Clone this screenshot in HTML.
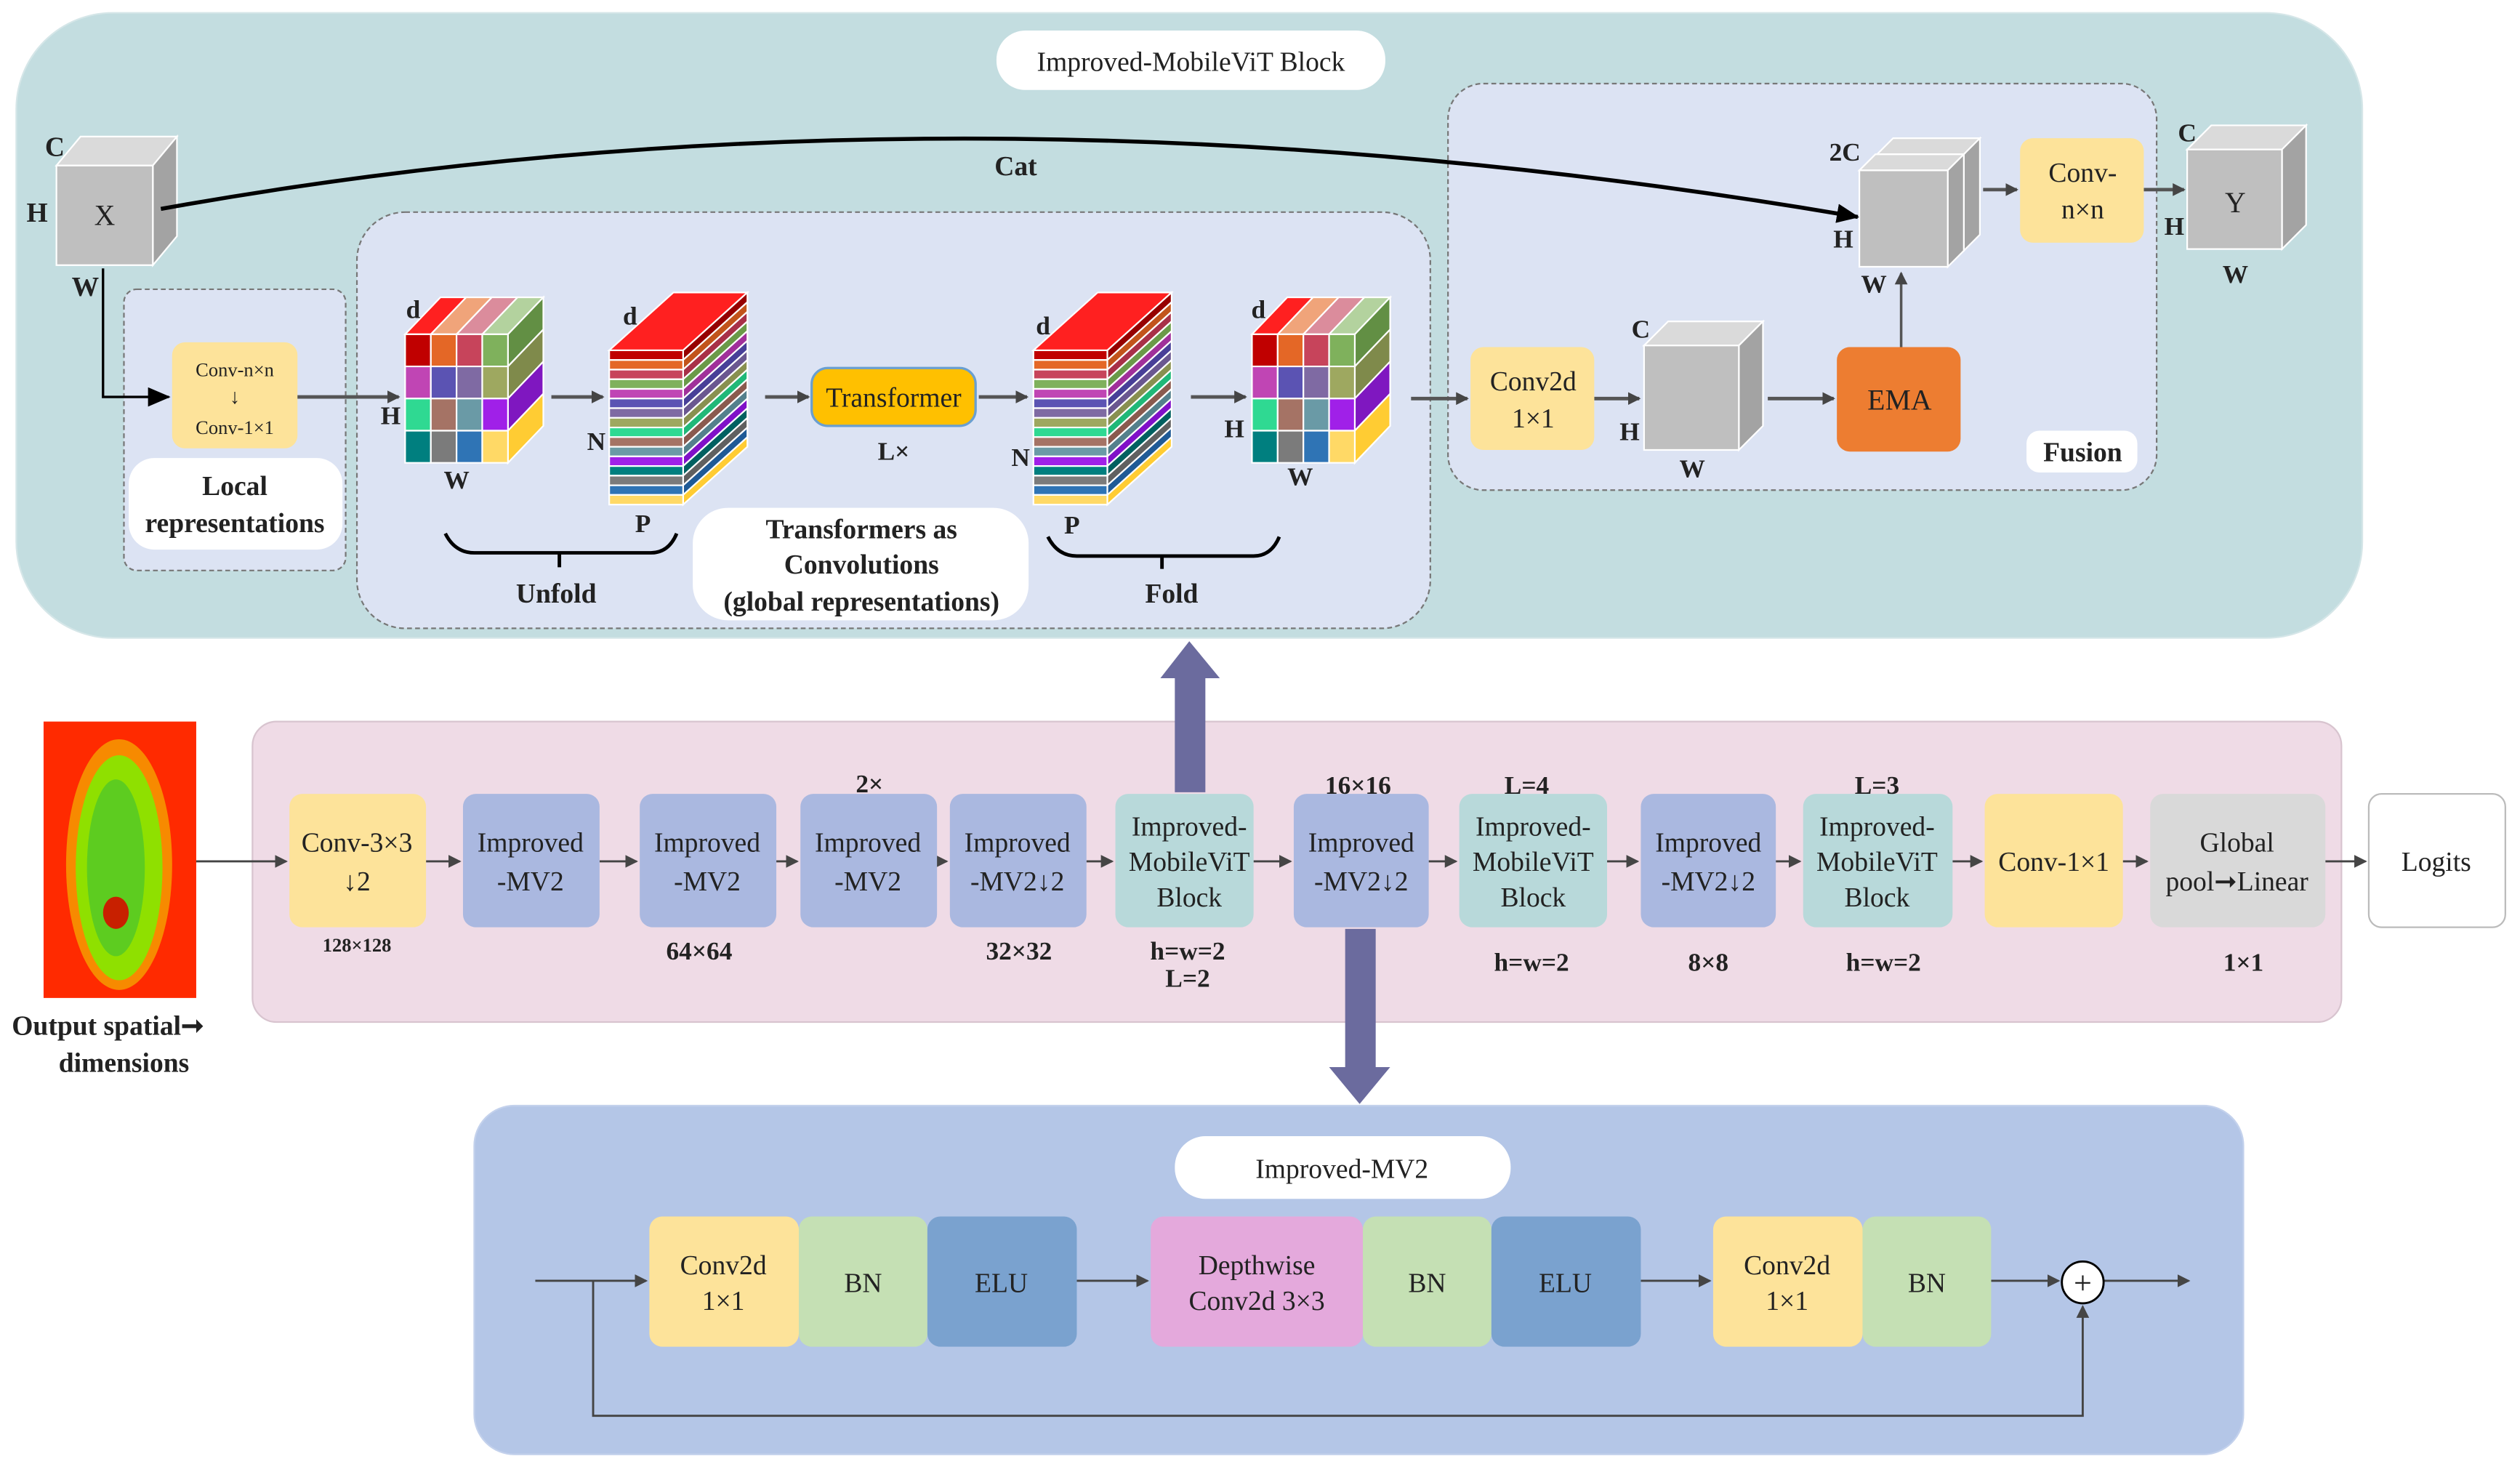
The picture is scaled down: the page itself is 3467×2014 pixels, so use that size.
<!DOCTYPE html>
<html><head><meta charset="utf-8"><style>
html,body{margin:0;padding:0;background:#fff;width:3467px;height:2014px;overflow:hidden}
svg{display:block}
text{font-family:"Liberation Serif",serif;fill:#222}
.b{font-weight:bold}
</style></head><body>
<svg id="s" width="3467" height="2014" viewBox="0 0 1568 911" xmlns="http://www.w3.org/2000/svg">
<defs>
<marker id="ag" markerWidth="8" markerHeight="8" refX="7" refY="4" orient="auto" markerUnits="userSpaceOnUse"><path d="M0,0 L8,4 L0,8 z" fill="#454545"/></marker>
<marker id="ak" markerWidth="14" markerHeight="12" refX="13" refY="6" orient="auto" markerUnits="userSpaceOnUse"><path d="M0,0 L14,6 L0,12 z" fill="#000"/></marker>
</defs>
<!-- top panel -->
<rect x="10" y="8" width="1460" height="389" rx="60" fill="#c3dde0" stroke="#d5e6e8"/>
<rect x="620" y="19" width="242" height="37" rx="18" fill="#fff"/>
<text x="741" y="44" font-size="17" text-anchor="middle">Improved-MobileViT Block</text>
<rect x="77" y="180" width="138" height="175" rx="8" fill="#dce3f3" stroke="#777" stroke-dasharray="3,2"/>
<rect x="222" y="132" width="668" height="259" rx="30" fill="#dce3f3" stroke="#777" stroke-dasharray="3,2"/>
<rect x="901" y="52" width="441" height="253" rx="22" fill="#dce3f3" stroke="#777" stroke-dasharray="3,2"/>
<g id="cubes"></g>
<!-- X cube labels -->
<text x="65" y="140" font-size="18" text-anchor="middle">X</text>
<text x="34" y="97" font-size="17" class="b" text-anchor="middle">C</text>
<text x="23" y="138" font-size="17" class="b" text-anchor="middle">H</text>
<text x="53" y="184" font-size="17" class="b" text-anchor="middle">W</text>
<!-- Cat curve -->
<path d="M100,130 Q600,40 1156,135" fill="none" stroke="#000" stroke-width="2.5" marker-end="url(#ak)"/>
<text x="632" y="109" font-size="17" class="b" text-anchor="middle">Cat</text>
<!-- local -->
<path d="M64,167 V247 H105" fill="none" stroke="#000" stroke-width="1.5" marker-end="url(#ak)"/>
<rect x="107" y="213" width="78" height="66" rx="8" fill="#fde39a"/>
<text x="146" y="234" font-size="12" text-anchor="middle">Conv-n×n</text>
<text x="146" y="251" font-size="13" text-anchor="middle">↓</text>
<text x="146" y="270" font-size="12" text-anchor="middle">Conv-1×1</text>
<rect x="80" y="285" width="133" height="57" rx="16" fill="#fff"/>
<text x="146" y="308" font-size="17" class="b" text-anchor="middle">Local</text>
<text x="146" y="331" font-size="17" class="b" text-anchor="middle">representations</text>
<g stroke="#555" stroke-width="2.2" fill="none" marker-end="url(#ag)">
<line x1="185" y1="247" x2="248" y2="247"/>
<line x1="343" y1="247" x2="375" y2="247"/>
<line x1="476" y1="247" x2="503" y2="247"/>
<line x1="609" y1="247" x2="639" y2="247"/>
<line x1="741" y1="247" x2="775" y2="247"/>
<line x1="878" y1="248" x2="913" y2="248"/>
<line x1="992" y1="248" x2="1020" y2="248"/>
<line x1="1100" y1="248" x2="1141" y2="248"/>
<line x1="1234" y1="118" x2="1255" y2="118"/>
<line x1="1334" y1="118" x2="1359" y2="118"/>
</g>
<line x1="1183" y1="216" x2="1183" y2="170" stroke="#555" stroke-width="1.6" marker-end="url(#ag)"/>
<!-- labels of patch cubes -->
<text x="257" y="198" font-size="16" class="b" text-anchor="middle">d</text>
<text x="243" y="264" font-size="16" class="b" text-anchor="middle">H</text>
<text x="284" y="304" font-size="16" class="b" text-anchor="middle">W</text>
<text x="392" y="202" font-size="16" class="b" text-anchor="middle">d</text>
<text x="371" y="280" font-size="16" class="b" text-anchor="middle">N</text>
<text x="400" y="331" font-size="16" class="b" text-anchor="middle">P</text>
<text x="649" y="208" font-size="16" class="b" text-anchor="middle">d</text>
<text x="635" y="290" font-size="16" class="b" text-anchor="middle">N</text>
<text x="667" y="332" font-size="16" class="b" text-anchor="middle">P</text>
<text x="783" y="198" font-size="16" class="b" text-anchor="middle">d</text>
<text x="768" y="272" font-size="16" class="b" text-anchor="middle">H</text>
<text x="809" y="302" font-size="16" class="b" text-anchor="middle">W</text>
<rect x="505" y="229" width="102" height="36" rx="10" fill="#ffc000" stroke="#6a9fd0" stroke-width="1.5"/>
<text x="556" y="253" font-size="17" text-anchor="middle">Transformer</text>
<text x="556" y="286" font-size="16" class="b" text-anchor="middle">L×</text>
<path d="M277,332 Q283,344 295,344 H405 Q416,344 421,332 M348,344 V353" fill="none" stroke="#000" stroke-width="2.2"/>
<path d="M652,334 Q658,346 670,346 H780 Q791,346 796,334 M723,346 V354" fill="none" stroke="#000" stroke-width="2.2"/>
<text x="346" y="375" font-size="17" class="b" text-anchor="middle">Unfold</text>
<text x="729" y="375" font-size="17" class="b" text-anchor="middle">Fold</text>
<rect x="431" y="316" width="209" height="70" rx="22" fill="#fff"/>
<text x="536" y="335" font-size="17" class="b" text-anchor="middle">Transformers as</text>
<text x="536" y="357" font-size="17" class="b" text-anchor="middle">Convolutions</text>
<text x="536" y="380" font-size="17" class="b" text-anchor="middle">(global representations)</text>
<!-- fusion -->
<rect x="915" y="216" width="77" height="64" rx="8" fill="#fde39a"/>
<text x="954" y="243" font-size="17" text-anchor="middle">Conv2d</text>
<text x="954" y="266" font-size="17" text-anchor="middle">1×1</text>
<text x="1021" y="210" font-size="16" class="b" text-anchor="middle">C</text>
<text x="1014" y="274" font-size="16" class="b" text-anchor="middle">H</text>
<text x="1053" y="297" font-size="16" class="b" text-anchor="middle">W</text>
<rect x="1143" y="216" width="77" height="65" rx="8" fill="#ed7d31"/>
<text x="1182" y="255" font-size="18" text-anchor="middle">EMA</text>
<text x="1148" y="100" font-size="16" class="b" text-anchor="middle">2C</text>
<text x="1147" y="154" font-size="16" class="b" text-anchor="middle">H</text>
<text x="1166" y="182" font-size="16" class="b" text-anchor="middle">W</text>
<rect x="1257" y="86" width="77" height="65" rx="8" fill="#fde39a"/>
<text x="1296" y="113" font-size="17" text-anchor="middle">Conv-</text>
<text x="1296" y="136" font-size="17" text-anchor="middle">n×n</text>
<text x="1391" y="132" font-size="18" text-anchor="middle">Y</text>
<text x="1361" y="88" font-size="16" class="b" text-anchor="middle">C</text>
<text x="1353" y="146" font-size="16" class="b" text-anchor="middle">H</text>
<text x="1391" y="176" font-size="16" class="b" text-anchor="middle">W</text>
<rect x="1261" y="268" width="69" height="26" rx="8" fill="#fff"/>
<text x="1296" y="287" font-size="17" class="b" text-anchor="middle">Fusion</text>

<!-- middle panel -->
<rect x="157" y="449" width="1300" height="187" rx="15" fill="#efdbe6" stroke="#d8c4cf"/>
<rect x="27" y="449" width="95" height="172" fill="#ff2a00"/>
<ellipse cx="74" cy="538" rx="33" ry="78" fill="#f5a300" opacity="0.8"/>
<ellipse cx="74" cy="540" rx="27" ry="70" fill="#8fe000"/>
<ellipse cx="72" cy="540" rx="18" ry="55" fill="#5dcc20"/>
<ellipse cx="72" cy="568" rx="8" ry="10" fill="#c82000"/>
<text x="67" y="644" font-size="17" class="b" text-anchor="middle">Output spatial➞</text>
<text x="77" y="667" font-size="17" class="b" text-anchor="middle">dimensions</text>
<g stroke="#444" stroke-width="1.3" marker-end="url(#ag)">
<line x1="122" y1="536" x2="178" y2="536"/>
<line x1="265" y1="536" x2="286" y2="536"/>
<line x1="373" y1="536" x2="396" y2="536"/>
<line x1="483" y1="536" x2="496" y2="536"/>
<line x1="583" y1="536" x2="589" y2="536"/>
<line x1="676" y1="536" x2="692" y2="536"/>
<line x1="780" y1="536" x2="803" y2="536"/>
<line x1="889" y1="536" x2="906" y2="536"/>
<line x1="1000" y1="536" x2="1019" y2="536"/>
<line x1="1105" y1="536" x2="1120" y2="536"/>
<line x1="1215" y1="536" x2="1233" y2="536"/>
<line x1="1321" y1="536" x2="1336" y2="536"/>
<line x1="1447" y1="536" x2="1472" y2="536"/>
</g>
<g font-size="17" text-anchor="middle">
<rect x="180" y="494" width="85" height="83" rx="8" fill="#fde39a"/>
<text x="222" y="530">Conv-3×3</text><text x="222" y="554">↓2</text>
<rect x="288" y="494" width="85" height="83" rx="8" fill="#aab8e0"/>
<text x="330" y="530">Improved</text><text x="330" y="554">-MV2</text>
<rect x="398" y="494" width="85" height="83" rx="8" fill="#aab8e0"/>
<text x="440" y="530">Improved</text><text x="440" y="554">-MV2</text>
<rect x="498" y="494" width="85" height="83" rx="8" fill="#aab8e0"/>
<text x="540" y="530">Improved</text><text x="540" y="554">-MV2</text>
<rect x="591" y="494" width="85" height="83" rx="8" fill="#aab8e0"/>
<text x="633" y="530">Improved</text><text x="633" y="554">-MV2↓2</text>
<rect x="694" y="494" width="86" height="83" rx="8" fill="#b8d9da"/>
<text x="740" y="520">Improved-</text><text x="740" y="542">MobileViT</text><text x="740" y="564">Block</text>
<rect x="805" y="494" width="84" height="83" rx="8" fill="#aab8e0"/>
<text x="847" y="530">Improved</text><text x="847" y="554">-MV2↓2</text>
<rect x="908" y="494" width="92" height="83" rx="8" fill="#b8d9da"/>
<text x="954" y="520">Improved-</text><text x="954" y="542">MobileViT</text><text x="954" y="564">Block</text>
<rect x="1021" y="494" width="84" height="83" rx="8" fill="#aab8e0"/>
<text x="1063" y="530">Improved</text><text x="1063" y="554">-MV2↓2</text>
<rect x="1122" y="494" width="93" height="83" rx="8" fill="#b8d9da"/>
<text x="1168" y="520">Improved-</text><text x="1168" y="542">MobileViT</text><text x="1168" y="564">Block</text>
<rect x="1235" y="494" width="86" height="83" rx="8" fill="#fde39a"/>
<text x="1278" y="542">Conv-1×1</text>
<rect x="1338" y="494" width="109" height="83" rx="8" fill="#d9d9d9"/>
<text x="1392" y="530">Global</text><text x="1392" y="554">pool➞Linear</text>
<rect x="1474" y="494" width="85" height="83" rx="8" fill="#fff" stroke="#bbb"/>
<text x="1516" y="542">Logits</text>
</g>
<g font-size="16" class="b" text-anchor="middle">
<text x="541" y="493">2×</text><text x="845" y="494">16×16</text><text x="950" y="494">L=4</text><text x="1168" y="494">L=3</text>
<text x="222" y="592" font-size="12">128×128</text>
<text x="435" y="597">64×64</text><text x="634" y="597">32×32</text>
<text x="739" y="597">h=w=2</text><text x="739" y="614">L=2</text>
<text x="953" y="604">h=w=2</text><text x="1063" y="604">8×8</text><text x="1172" y="604">h=w=2</text><text x="1396" y="604">1×1</text>
</g>
<!-- big arrows -->
<path d="M731,493 V422 H722 L740,399 L759,422 H750 V493 Z" fill="#6b6b9e"/>
<path d="M837,578 V664 H827 L846,687 L865,664 H856 V578 Z" fill="#6b6b9e"/>
<!-- bottom panel -->
<rect x="295" y="688" width="1101" height="217" rx="25" fill="#b4c6e7" stroke="#c3d1ec"/>
<rect x="731" y="707" width="209" height="39" rx="19" fill="#fff"/>
<text x="835" y="733" font-size="17" text-anchor="middle">Improved-MV2</text>
<g stroke="#444" stroke-width="1.3" fill="none">
<line x1="333" y1="797" x2="402" y2="797" marker-end="url(#ag)"/>
<line x1="670" y1="797" x2="714" y2="797" marker-end="url(#ag)"/>
<line x1="1021" y1="797" x2="1064" y2="797" marker-end="url(#ag)"/>
<line x1="1239" y1="797" x2="1281" y2="797" marker-end="url(#ag)"/>
<line x1="1309" y1="797" x2="1362" y2="797" marker-end="url(#ag)"/>
<path d="M369,797 V881 H1296 V813" marker-end="url(#ag)"/>
</g>
<circle cx="1296" cy="798" r="13" fill="#fff" stroke="#000" stroke-width="1.3"/>
<text x="1296" y="805" font-size="20" text-anchor="middle">+</text>
<g font-size="17" text-anchor="middle">
<rect x="404" y="757" width="93" height="81" rx="8" fill="#fde39a"/>
<text x="450" y="793">Conv2d</text><text x="450" y="815">1×1</text>
<rect x="497" y="757" width="80" height="81" rx="8" fill="#c5e0b4"/>
<text x="537" y="804">BN</text>
<rect x="577" y="757" width="93" height="81" rx="8" fill="#7aa2cf"/>
<text x="623" y="804">ELU</text>
<rect x="716" y="757" width="132" height="81" rx="8" fill="#e4a9dc"/>
<text x="782" y="793">Depthwise</text><text x="782" y="815">Conv2d 3×3</text>
<rect x="848" y="757" width="80" height="81" rx="8" fill="#c5e0b4"/>
<text x="888" y="804">BN</text>
<rect x="928" y="757" width="93" height="81" rx="8" fill="#7aa2cf"/>
<text x="974" y="804">ELU</text>
<rect x="1066" y="757" width="93" height="81" rx="8" fill="#fde39a"/>
<text x="1112" y="793">Conv2d</text><text x="1112" y="815">1×1</text>
<rect x="1159" y="757" width="80" height="81" rx="8" fill="#c5e0b4"/>
<text x="1199" y="804">BN</text>
</g>
</svg>
<script>
var g=document.getElementById('cubes'),NS='http://www.w3.org/2000/svg';
function P(pts,fill){var p=document.createElementNS(NS,'polygon');p.setAttribute('points',pts.map(function(a){return a.join(',')}).join(' '));p.setAttribute('fill',fill);p.setAttribute('stroke','#fff');p.setAttribute('stroke-width','1');g.appendChild(p);}
function grayCube(x,y,w,h,dx,dy){P([[x,y],[x+dx,y-dy],[x+w+dx,y-dy],[x+w,y]],'#dadada');P([[x+w,y],[x+w+dx,y-dy],[x+w+dx,y+h-dy],[x+w,y+h]],'#a3a3a3');P([[x,y],[x+w,y],[x+w,y+h],[x,y+h]],'#bfbfbf');}
grayCube(35,103,60,62,15,18);
grayCube(1023,215,59,65,15,15);
grayCube(1168,96,54,60,10,10);
grayCube(1157,106,55,60,10,10);
grayCube(1361,93,59,62,15,15);
var grid=[['#c00000','#e46726','#c7445b','#7fb15c'],['#c045b4','#5b53b3','#7f6aa3','#9ea860'],['#2fd992','#a57365','#6a9aa6','#a020e8'],['#007f7f','#7b7b7b','#2f74b5','#ffd966']];
var tops=['#ff2020','#f0a47a','#db8c9c','#b3d29e'],sides=['#628f44','#7f8a4b','#7f17c0','#ffcc33'];
function patchCube(x,y){var cw=16,ch=20,dx=22,dy=23,w=64,h=80;
 for(var i=0;i<4;i++){P([[x+i*cw,y],[x+i*cw+dx,y-dy],[x+(i+1)*cw+dx,y-dy],[x+(i+1)*cw,y]],tops[i]);}
 for(var j=0;j<4;j++){P([[x+w,y+j*ch],[x+w+dx,y+j*ch-dy],[x+w+dx,y+(j+1)*ch-dy],[x+w,y+(j+1)*ch]],sides[j]);}
 for(var j=0;j<4;j++)for(var i=0;i<4;i++)P([[x+i*cw,y+j*ch],[x+(i+1)*cw,y+j*ch],[x+(i+1)*cw,y+(j+1)*ch],[x+i*cw,y+(j+1)*ch]],grid[j][i]);}
patchCube(252,208);patchCube(779,208);
var stripes=['#c00000','#e46726','#c7445b','#7fb15c','#c045b4','#5b53b3','#7f6aa3','#9ea860','#2fd992','#a57365','#6a9aa6','#a020e8','#007f7f','#7b7b7b','#2f74b5','#ffd966'];
var sideS=['#960000','#c2541b','#a83048','#6a9a48','#a0309a','#483f98','#6a5790','#889050','#20b878','#8a5a4e','#54808c','#8010c8','#006060','#606060','#1f5a96','#ffcc33'];
function stackCube(x,y){var w=46,sh=6,dx=40,dy=36,h=16*sh;
 P([[x,y],[x+dx,y-dy],[x+w+dx,y-dy],[x+w,y]],'#ff2020');
 for(var j=0;j<16;j++)P([[x+w,y+j*sh],[x+w+dx,y+j*sh-dy],[x+w+dx,y+(j+1)*sh-dy],[x+w,y+(j+1)*sh]],sideS[j]);
 for(var j=0;j<16;j++)P([[x,y+j*sh],[x+w,y+j*sh],[x+w,y+(j+1)*sh],[x,y+(j+1)*sh]],stripes[j]);}
stackCube(379,218);stackCube(643,218);
</script>
</body></html>
